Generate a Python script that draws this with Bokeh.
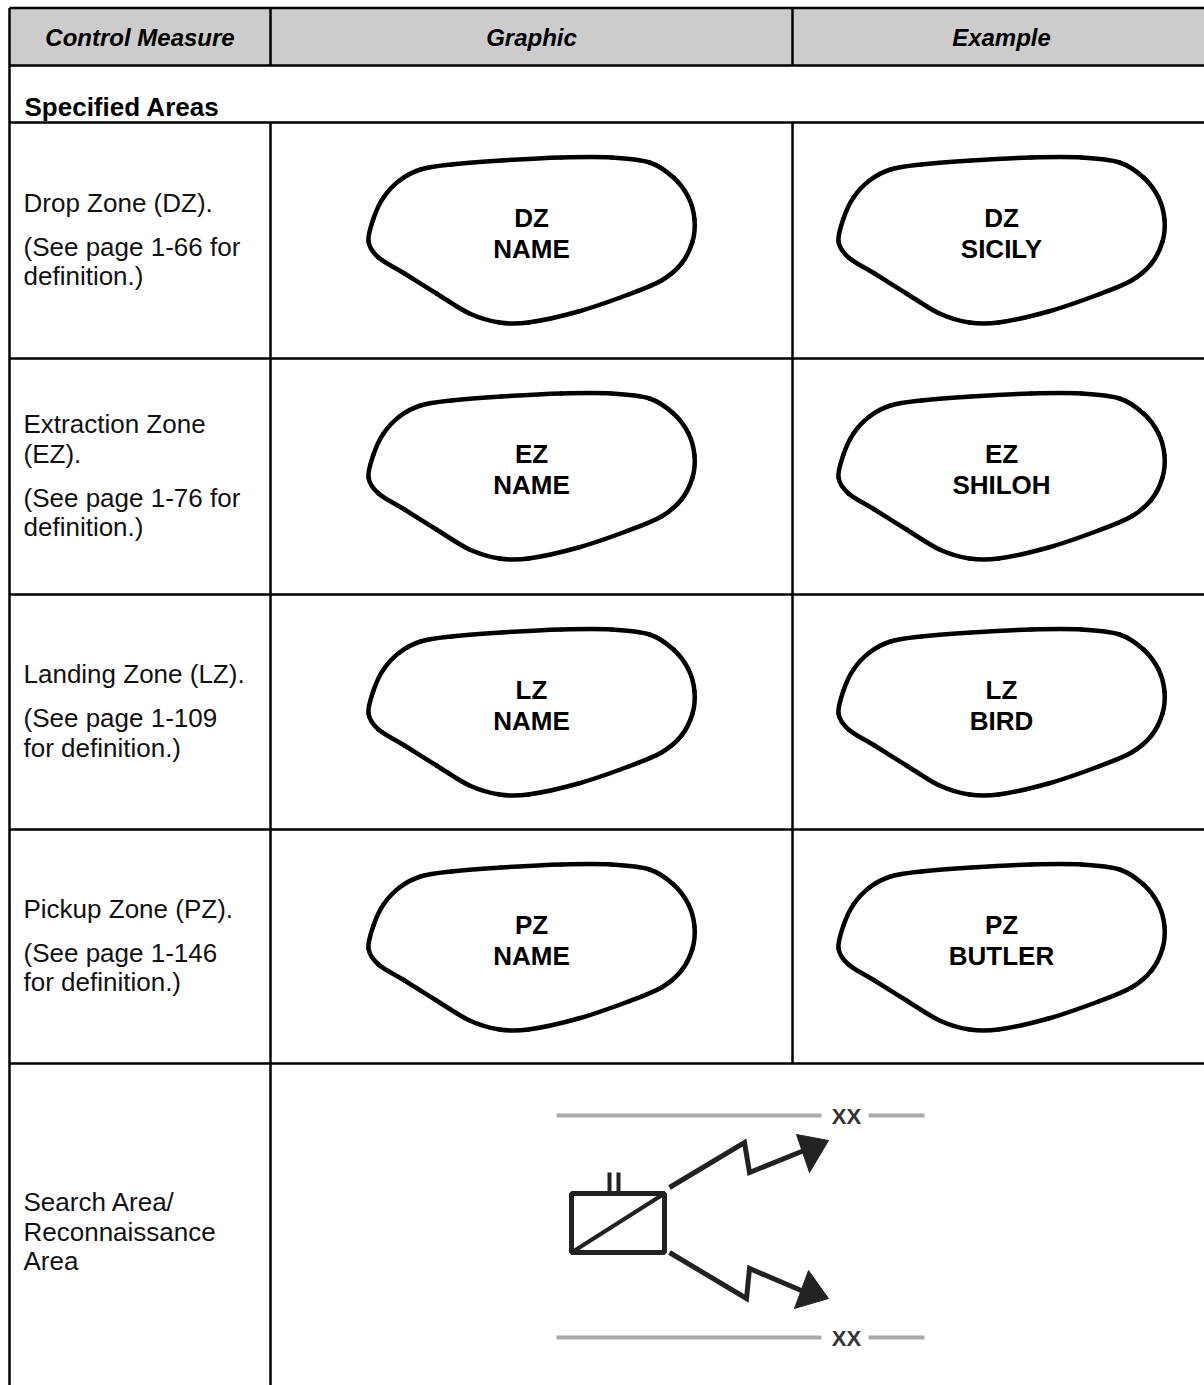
from bokeh.plotting import figure
from bokeh.models import Range1d
from bokeh.core.properties import value
from bokeh.embed import file_html
from bokeh.resources import INLINE

# ------------------------------------------------------------------ content
headers = ["Control Measure", "Graphic", "Example"]
section_title = "Specified  Areas"
measure_paragraphs = [
    [["Drop Zone (DZ)."], ["(See page 1-66 for", "definition.)"]],
    [["Extraction Zone", "(EZ)."], ["(See page 1-76 for", "definition.)"]],
    [["Landing Zone (LZ)."], ["(See page 1-109", "for definition.)"]],
    [["Pickup Zone (PZ)."], ["(See page 1-146", "for definition.)"]],
    [["Search Area/", "Reconnaissance", "Area"]],
]
zone_codes = ["DZ", "EZ", "LZ", "PZ"]
graphic_names = ["NAME", "NAME", "NAME", "NAME"]
example_names = ["SICILY", "SHILOH", "BIRD", "BUTLER"]
phase_line_labels = ["XX", "XX"]

# outline of the zone "blob" (dx from cell centre, dy from row top)
blob_dx = [-163, -158, -148, -132, -111, -80, -30, 30, 80, 118, 142, 157, 163,
           161, 150, 130, 97, 47, -3, -32, -62, -95, -127, -153]
blob_dy = [119, 96, 75, 58, 47, 42, 38, 35, 35, 40, 55, 75, 97,
           119, 141, 158, 172, 189, 200, 200, 191, 171, 151, 135]

# ------------------------------------------------------------------ layout
W, H = 1204, 1385
FONT = value("Liberation Sans")
X0, X1, X2, X3 = 9, 270, 792, 1210
Y_TOP, Y_HEAD, Y_SEC = 7.5, 65, 122
row_tops = [122, 358, 594, 829, 1063]
row_bottoms = [358, 594, 829, 1063, 1401]

p = figure(width=W, height=H, x_range=Range1d(0, W), y_range=Range1d(H, 0),
           output_backend="svg", toolbar_location=None, min_border=0,
           x_axis_location=None, y_axis_location=None,
           background_fill_color="white", border_fill_color="white")
p.outline_line_color = None
p.grid.grid_line_color = None

# header background
p.quad(left=[X0], right=[X3], top=[Y_TOP], bottom=[Y_HEAD],
       fill_color="#cccccc", line_color=None)

# table rules
hx0, hx1, hy0, hy1 = [], [], [], []
for y in [Y_TOP, Y_HEAD, Y_SEC] + row_tops[1:]:
    hx0.append(X0); hx1.append(X3); hy0.append(y); hy1.append(y)
p.segment(x0=hx0, x1=hx1, y0=hy0, y1=hy1, line_color="black", line_width=2.5)
vx = [X0, X1, X2, X1, X2]
vy0 = [Y_TOP, Y_TOP, Y_TOP, Y_SEC, Y_SEC]
vy1 = [1401, Y_HEAD, Y_HEAD, 1401, row_tops[4]]
p.segment(x0=vx, x1=vx, y0=vy0, y1=vy1, line_color="black", line_width=2.5)

# header texts
col_centers = [(X0 + X1) / 2, (X1 + X2) / 2, (X2 + X3) / 2]
p.text(x=col_centers, y=[36.5] * 3, text=headers, text_font=FONT,
       text_font_size="24px", text_font_style="bold italic",
       text_align="center", text_baseline="middle", text_color="black")

# section title
p.text(x=[24], y=[106], text=[section_title], text_font=FONT,
       text_font_size="26px", text_font_style="bold",
       text_align="left", text_baseline="middle", text_color="black")

# control measure descriptions
tx, ty, tt = [], [], []
for r, paras in enumerate(measure_paragraphs):
    offs, lines, cur = [], [], 0.0
    for pi, para in enumerate(paras):
        for li, line in enumerate(para):
            if pi > 0 and li == 0:
                cur += 44
            elif li > 0:
                cur += 29.5
            offs.append(cur)
            lines.append(line)
    centre = (row_tops[r] + row_bottoms[r]) / 2 - 1
    start = centre - offs[-1] / 2
    for o, line in zip(offs, lines):
        tx.append(23); ty.append(start + o); tt.append(line)
p.text(x=tx, y=ty, text=tt, text_font=FONT, text_font_size="26px",
       text_align="left", text_baseline="middle", text_color="#111111")

# zone blobs (smooth closed curve through outline points, drawn as beziers)
n = len(blob_dx)
bx0, by0, bx1, by1, bcx0, bcy0, bcx1, bcy1 = ([] for _ in range(8))
lx, ly, lt = [], [], []
for r in range(4):
    for cx, name in ((col_centers[1], graphic_names[r]), (col_centers[2], example_names[r])):
        top = row_tops[r]
        px = [cx + d for d in blob_dx]
        py = [top + d for d in blob_dy]
        for i in range(n):
            a, b = i - 1, i
            c, d = (i + 1) % n, (i + 2) % n
            bx0.append(px[b]); by0.append(py[b])
            bx1.append(px[c]); by1.append(py[c])
            bcx0.append(px[b] + (px[c] - px[a]) / 6); bcy0.append(py[b] + (py[c] - py[a]) / 6)
            bcx1.append(px[c] - (px[d] - px[b]) / 6); bcy1.append(py[c] - (py[d] - py[b]) / 6)
        lx += [cx, cx]; ly += [top + 95, top + 126]; lt += [zone_codes[r], name]
p.bezier(x0=bx0, y0=by0, x1=bx1, y1=by1, cx0=bcx0, cy0=bcy0, cx1=bcx1, cy1=bcy1,
         line_color="black", line_width=4.5, line_cap="round")
p.text(x=lx, y=ly, text=lt, text_font=FONT, text_font_size="26px",
       text_font_style="bold", text_align="center", text_baseline="middle",
       text_color="black")

# search / reconnaissance area graphic
sx, sy = (X1 + X3) / 2, row_tops[4]
# phase lines
for dy in (52, 274):
    p.segment(x0=[sx - 184, sx + 128], x1=[sx + 81, sx + 184], y0=[sy + dy] * 2,
              y1=[sy + dy] * 2, line_color="#aaaaaa", line_width=4)
p.text(x=[sx + 106, sx + 106], y=[sy + 53, sy + 275], text=phase_line_labels,
       text_font=FONT, text_font_size="22px", text_font_style="bold",
       text_align="center", text_baseline="middle", text_color="#333333")
# unit box
p.quad(left=[sx - 169], right=[sx - 76], top=[sy + 130], bottom=[sy + 189],
       fill_color=None, line_color="#222222", line_width=5)
p.line(x=[sx - 169, sx - 76], y=[sy + 189, sy + 130], line_color="#222222", line_width=4)
p.segment(x0=[sx - 131, sx - 122], x1=[sx - 131, sx - 122], y0=[sy + 109] * 2,
          y1=[sy + 129] * 2, line_color="#222222", line_width=4)
# zig-zag arrows
p.line(x=[sx - 71, sx + 4, sx + 9, sx + 66], y=[sy + 124, sy + 79, sy + 109, sy + 86],
       line_color="#222222", line_width=5, line_join="miter")
p.line(x=[sx - 71, sx + 6, sx + 9, sx + 63], y=[sy + 189, sy + 235, sy + 205, sy + 228],
       line_color="#222222", line_width=5, line_join="miter")
p.patches(xs=[[sx + 88, sx + 56, sx + 69], [sx + 88, sx + 68, sx + 54]],
          ys=[[sy + 77, sy + 71, sy + 109], [sy + 235, sy + 207, sy + 245]],
          fill_color="#222222", line_color="#222222", line_width=1)

open("out.html", "w").write(file_html(p, INLINE))
